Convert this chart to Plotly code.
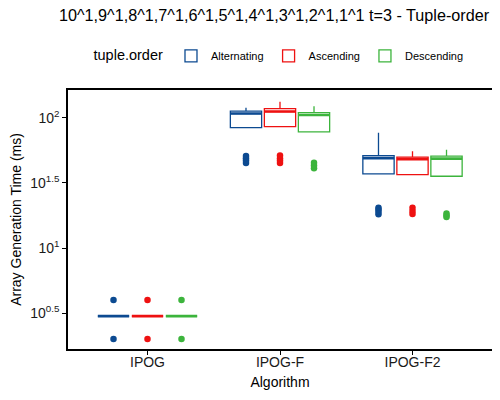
"""Boxplot of array generation time per algorithm and tuple order"""

import plotly.graph_objects as go

TITLE = "10^1,9^1,8^1,7^1,6^1,5^1,4^1,3^1,2^1,1^1 t=3 - Tuple-order"

algorithms = ["IPOG", "IPOG-F", "IPOG-F2"]
orders = ["Alternating", "Ascending", "Descending"]
colors = ["#0C4A91", "#EE1111", "#3CB43C"]

# box statistics (ms), one value per algorithm
q1_alt = [3, 84.2, 37.1]
med_alt = [3, 107.9, 49.1]
q3_alt = [3, 112.8, 51.3]
hi_alt = [3, 119.4, 76.7]

q1_asc = [3, 85.7, 36.6]
med_asc = [3, 111.8, 48.2]
q3_asc = [3, 117.9, 49.9]
hi_asc = [3, 132.8, 55.3]

q1_desc = [3, 78.0, 35.6]
med_desc = [3, 105.1, 48.6]
q3_desc = [3, 109.8, 50.8]
hi_desc = [3, 122.7, 57.0]

# outliers (ms)
out_alt_x = ["IPOG", "IPOG", "IPOG-F", "IPOG-F", "IPOG-F", "IPOG-F", "IPOG-F2", "IPOG-F2", "IPOG-F2", "IPOG-F2"]
out_alt_y = [2, 4, 45, 47, 49, 51, 18.2, 19, 19.8, 20.4]
out_asc_x = ["IPOG", "IPOG", "IPOG-F", "IPOG-F", "IPOG-F", "IPOG-F", "IPOG-F2", "IPOG-F2", "IPOG-F2"]
out_asc_y = [2, 4, 45, 47, 49, 51.3, 18.3, 19.3, 20.4]
out_desc_x = ["IPOG", "IPOG", "IPOG-F", "IPOG-F", "IPOG-F", "IPOG-F2", "IPOG-F2", "IPOG-F2"]
out_desc_y = [2, 4, 41.1, 43, 45.3, 17.3, 17.8, 18.4]

y_tickvals = [10 ** 0.5, 10, 10 ** 1.5, 100]
y_ticktext = ["10<sup>0.5</sup>", "10<sup>1</sup>", "10<sup>1.5</sup>", "10<sup>2</sup>"]

stats = [
    (q1_alt, med_alt, q3_alt, hi_alt, out_alt_x, out_alt_y),
    (q1_asc, med_asc, q3_asc, hi_asc, out_asc_x, out_asc_y),
    (q1_desc, med_desc, q3_desc, hi_desc, out_desc_x, out_desc_y),
]

fig = go.Figure()

for name, color, (q1, med, q3, hi, ox, oy) in zip(orders, colors, stats):
    # the box itself
    fig.add_trace(go.Box(
        name=name, x=algorithms, q1=q1, median=med, q3=q3,
        lowerfence=q1, upperfence=hi,
        offsetgroup=name, legendgroup=name,
        line=dict(color=color, width=1.3), fillcolor="white",
        whiskerwidth=0, boxpoints=False, hoverinfo="skip",
    ))
    # thicker median line drawn as a flat box on top
    fig.add_trace(go.Box(
        name=name, x=algorithms, q1=med, median=med, q3=med,
        lowerfence=med, upperfence=med,
        offsetgroup=name, legendgroup=name, showlegend=False,
        line=dict(color=color, width=2.6), fillcolor=color,
        whiskerwidth=0, boxpoints=False, hoverinfo="skip",
    ))
    # outliers
    fig.add_trace(go.Scatter(
        x=ox, y=oy, mode="markers", offsetgroup=name, legendgroup=name,
        showlegend=False, marker=dict(color=color, size=6.5),
        hoverinfo="skip",
    ))

# title is wider than the page, so it is an annotation that can run off the edge
fig.add_annotation(
    text=TITLE, xref="paper", yref="paper", x=-0.026, y=1.29,
    xanchor="left", yanchor="middle", showarrow=False,
    font=dict(size=16.2, color="black"),
)

# the page body adds an 8px margin, so the figure is shifted by 8px
fig.update_layout(
    width=500, height=392,
    margin=dict(l=60, r=16, t=82, b=51, autoexpand=False),
    paper_bgcolor="white", plot_bgcolor="white",
    font=dict(family="Liberation Sans, Arial", color="black"),
    boxmode="group", boxgap=0.23, boxgroupgap=0.08,
    scattermode="group", scattergap=0.23,
    legend=dict(
        orientation="h", x=0.5, xanchor="center",
        yref="container", y=0.878, yanchor="middle",
        title=dict(text="tuple.order", font=dict(size=14.5), side="left"),
        font=dict(size=11), itemwidth=30, traceorder="normal",
    ),
)

fig.update_xaxes(
    categoryorder="array", categoryarray=algorithms, range=[-0.6, 2.6],
    showline=True, mirror=True, linecolor="black", linewidth=1.5,
    ticks="outside", ticklen=4, tickcolor="black", showgrid=False,
    tickfont=dict(size=14, color="#1a1a1a"), ticklabelstandoff=-5,
    title=dict(text="Algorithm", font=dict(size=14), standoff=9),
)
fig.update_yaxes(
    type="log", range=[0.225, 2.214],
    tickvals=y_tickvals, ticktext=y_ticktext,
    showline=True, mirror=True, linecolor="black", linewidth=1.5,
    ticks="outside", ticklen=4, tickcolor="black", showgrid=False, zeroline=False,
    tickfont=dict(size=14, color="#1a1a1a"),
    title=dict(text="Array Generation Time (ms)", font=dict(size=14), standoff=6),
)

fig.write_html("out.html")
